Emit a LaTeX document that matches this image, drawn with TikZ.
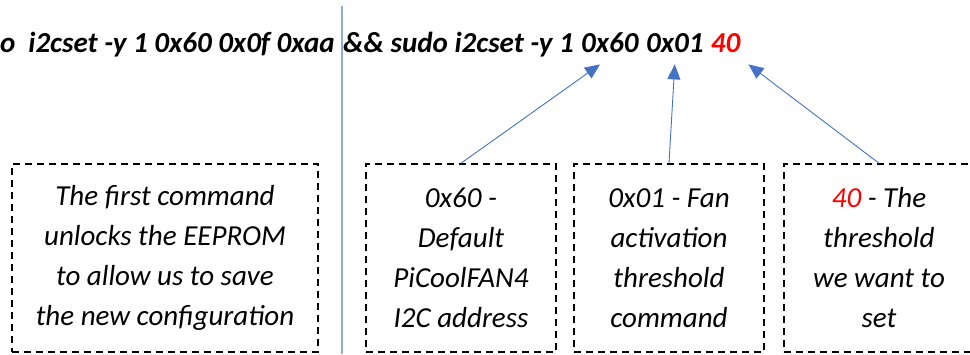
\documentclass[tikz,border=0pt]{standalone}
\usepackage{fontspec}
\setmainfont{Carlito}
\usetikzlibrary{arrows.meta,positioning}
\definecolor{arrowblue}{HTML}{4472C4}
\definecolor{lineblue}{HTML}{8FAADC}
\tikzset{
  cmdtext/.style={inner xsep=0pt, inner ysep=12pt, font=\fontsize{29}{35}\selectfont\bfseries\itshape},
  notebox/.style={draw, line width=1.5pt, dash pattern=on 7pt off 5pt, inner sep=0pt,
    minimum width=190pt, minimum height=188pt, align=center,
    font=\fontsize{29}{40}\selectfont\itshape},
  pointer/.style={arrowblue, line width=0.9pt, -{Triangle[length=15pt,width=13pt]}},
  divider/.style={lineblue, line width=1.3pt}
}
\begin{document}
\begin{tikzpicture}[x=1pt,y=-1pt]
\clip (0,0) rectangle (970,354);

% the two commands
\node (chain) [cmdtext, anchor=base west] at (343,52) {\&\& sudo i2cset -y 1};
\node (unlock) [cmdtext, left=8pt of chain.base west, anchor=base east] {sudo\ \ i2cset -y 1 0x60 0x0f 0xaa};
\node (addr) [cmdtext, right=7pt of chain.base east, anchor=base west] {0x60};
\node (reg) [cmdtext, right=7pt of addr.base east, anchor=base west] {0x01};
\node (val) [cmdtext, right=7pt of reg.base east, anchor=base west, text=red] {40};

\draw [divider] (342,6) -- (342,354);

% notes
\node (unlocknote) [notebox, minimum width=306pt] at (165,258) {The first command\\unlocks the EEPROM\\to allow us to save\\the new configuration};
\node (addrnote) [notebox] at (461,258) {0x60 -\\Default\\PiCoolFAN4\\I2C address};
\node (regnote) [notebox] at (669,258) {0x01 - Fan\\activation\\threshold\\command};
\node (valnote) [notebox] at (879,258) {\textcolor{red}{40} - The\\threshold\\we want to\\set};

\draw [pointer] (addrnote.north) -- ([xshift=-10pt]addr.south);
\draw [pointer] (regnote.north) -- (reg.south);
\draw [pointer] (valnote.north) -- ([xshift=8pt]val.south east);
\end{tikzpicture}
\end{document}
